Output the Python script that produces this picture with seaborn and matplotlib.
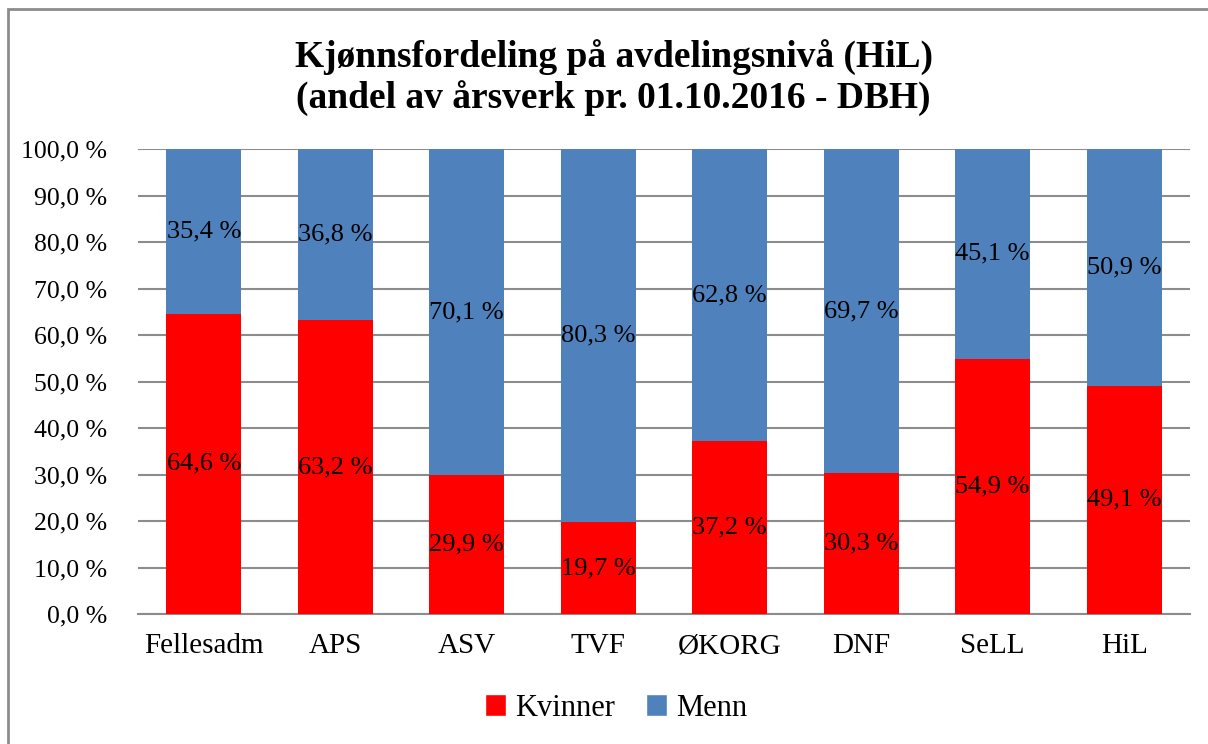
import pandas as pd
import matplotlib
matplotlib.use("Agg")
import matplotlib.pyplot as plt
import seaborn as sns
from matplotlib.patches import Rectangle, Patch

# Data
avdelinger = ["Fellesadm", "APS", "ASV", "TVF", "ØKORG", "DNF", "SeLL", "HiL"]
kvinner = [64.6, 63.2, 29.9, 19.7, 37.2, 30.3, 54.9, 49.1]
menn = [35.4, 36.8, 70.1, 80.3, 62.8, 69.7, 45.1, 50.9]
y_ticks = [0, 10, 20, 30, 40, 50, 60, 70, 80, 90, 100]

COLORS = {'Kvinner': '#FF0000', 'Menn': '#4F81BD'}

sns.set_theme(style="white")
plt.rcParams['font.family'] = ['Liberation Serif', 'DejaVu Serif']
plt.rcParams['text.color'] = 'black'
plt.rcParams['xtick.color'] = 'black'
plt.rcParams['ytick.color'] = 'black'

df = pd.DataFrame({'avd': avdelinger, 'Kvinner': kvinner, 'Menn': menn})
df['total'] = df['Kvinner'] + df['Menn']

fig = plt.figure(figsize=(12.08, 7.44), dpi=100)
ax = fig.add_axes([0.1142, 0.1747, 0.8708, 0.625])

# stacked: full bar in blue, women in red on top of it
sns.barplot(data=df, x='avd', y='total', color=COLORS['Menn'], width=0.57,
            saturation=1, linewidth=0, ax=ax, zorder=3)
sns.barplot(data=df, x='avd', y='Kvinner', color=COLORS['Kvinner'], width=0.57,
            saturation=1, linewidth=0, ax=ax, zorder=3)

for i, (k, m) in enumerate(zip(kvinner, menn)):
    ax.text(i, k / 2, f"{k:.1f} %".replace('.', ','), ha='center', va='center',
            fontsize=19, color='black', zorder=4)
    ax.text(i, k + m / 2, f"{m:.1f} %".replace('.', ','), ha='center', va='center',
            fontsize=19, color='black', zorder=4)

ax.set_ylim(0, 100)
ax.set_xlim(-0.5, len(avdelinger) - 0.5)
ax.set_yticks(y_ticks)
ax.set_yticklabels([f"{t:.1f} %".replace('.', ',') for t in y_ticks], fontsize=18.5)
ax.tick_params(axis='x', labelsize=21, pad=14, length=0, colors='black')
ax.tick_params(axis='y', length=0, pad=22, colors='black')
ax.set_xlabel("")
ax.set_ylabel("")
ax.yaxis.grid(True, color='#8c8c8c', linewidth=1.5, zorder=0)
ax.set_axisbelow(True)
for s in ['top', 'right', 'left']:
    ax.spines[s].set_visible(False)
ax.spines['bottom'].set_color('#8c8c8c')
ax.spines['bottom'].set_linewidth(1.5)

fig.text(0.508, 0.896, "Kjønnsfordeling på avdelingsnivå (HiL)\n(andel av årsverk pr. 01.10.2016 - DBH)",
         ha='center', va='center', fontsize=27, fontweight='bold', linespacing=1.2,
         color='black')

handles = [Patch(facecolor=COLORS['Kvinner'], label='Kvinner'),
           Patch(facecolor=COLORS['Menn'], label='Menn')]
fig.legend(handles=handles, loc='center', bbox_to_anchor=(0.51, 0.048), ncol=2,
           frameon=False, fontsize=22, handlelength=0.7, handleheight=0.7,
           handletextpad=0.3, columnspacing=1.0)

fig.patches.append(Rectangle((0.0066, -0.05), 1.2, 1.0379, transform=fig.transFigure,
                             fill=False, edgecolor='#8c8c8c', linewidth=2))

fig.savefig("out.png", dpi=100)
